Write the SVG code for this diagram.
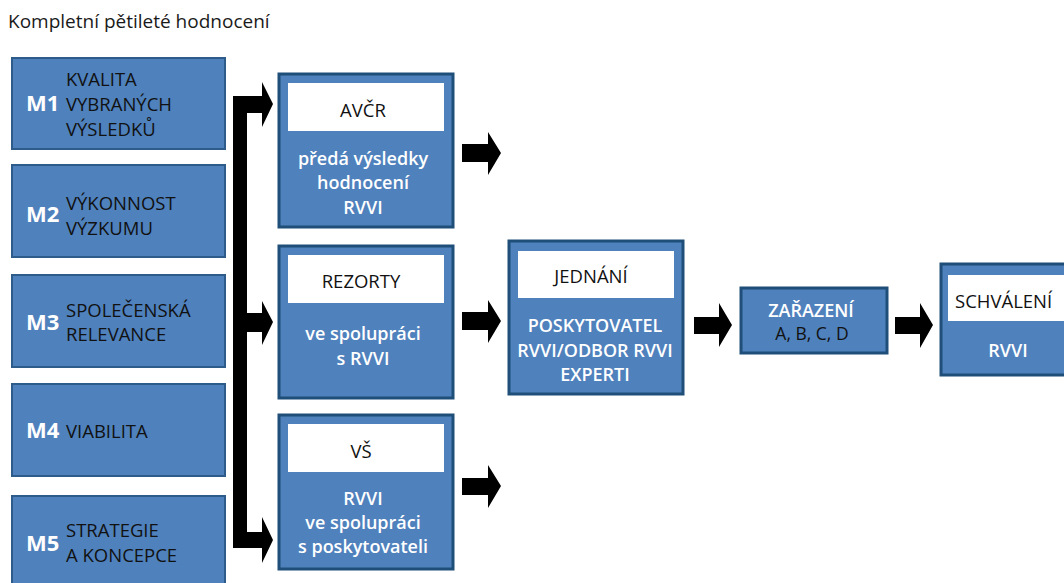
<svg xmlns="http://www.w3.org/2000/svg" width="1064" height="583" viewBox="0 0 1064 583">
<style>
.m{fill:#4F81BD;stroke:#2D5B8A;stroke-width:2}
.p{fill:#4F81BD;stroke:#1F4E79;stroke-width:3}
.w{fill:#FFFFFF}
.t{font-family:"Open Sans","Liberation Sans",sans-serif;font-size:18.5px;fill:#111}
.mn{font-family:"Open Sans","Liberation Sans",sans-serif;font-size:22px;font-weight:700;fill:#fff}
.b{font-family:"Open Sans","Liberation Sans",sans-serif;font-size:18px;font-weight:600;fill:#fff;text-anchor:middle}
.h{font-family:"Open Sans","Liberation Sans",sans-serif;font-size:18.5px;fill:#111;text-anchor:middle}
.title{font-family:"Open Sans","Liberation Sans",sans-serif;font-size:19px;fill:#1a1a1a}
.arr{fill:#000}
</style>
<rect width="1064" height="583" fill="#fff"/>
<text class="title" x="8" y="28">Kompletní pětileté hodnocení</text>

<g id="m1">
<rect class="m" x="12" y="58" width="213" height="91"/>
<text class="mn" x="26" y="111">M1</text>
<text class="t" x="66" y="86">KVALITA</text>
<text class="t" x="66" y="111">VYBRANÝCH</text>
<text class="t" x="66" y="136">VÝSLEDKŮ</text>
</g>
<g id="m2">
<rect class="m" x="12" y="165" width="213" height="92"/>
<text class="mn" x="26" y="222">M2</text>
<text class="t" x="66" y="210">VÝKONNOST</text>
<text class="t" x="66" y="235">VÝZKUMU</text>
</g>
<g id="m3">
<rect class="m" x="12" y="275" width="213" height="92"/>
<text class="mn" x="26" y="330">M3</text>
<text class="t" x="66" y="317">SPOLEČENSKÁ</text>
<text class="t" x="66" y="341">RELEVANCE</text>
</g>
<g id="m4">
<rect class="m" x="12" y="384" width="213" height="92"/>
<text class="mn" x="26" y="438">M4</text>
<text class="t" x="66" y="438">VIABILITA</text>
</g>
<g id="m5">
<rect class="m" x="12" y="496" width="213" height="100"/>
<text class="mn" x="26" y="551">M5</text>
<text class="t" x="66" y="537">STRATEGIE</text>
<text class="t" x="66" y="562">A KONCEPCE</text>
</g>

<g id="avcr">
<rect class="p" x="279" y="74" width="174" height="153"/>
<rect class="w" x="288" y="83" width="156" height="48"/>
<text class="h" x="363" y="117">AVČR</text>
<text class="b" x="363" y="165">předá výsledky</text>
<text class="b" x="363" y="189">hodnocení</text>
<text class="b" x="363" y="214">RVVI</text>
</g>
<g id="rezorty">
<rect class="p" x="279" y="246" width="174" height="152"/>
<rect class="w" x="288" y="255" width="156" height="48"/>
<text class="h" x="361" y="288">REZORTY</text>
<text class="b" x="363" y="340">ve spolupráci</text>
<text class="b" x="363" y="365">s RVVI</text>
</g>
<g id="vs">
<rect class="p" x="279" y="415" width="174" height="154"/>
<rect class="w" x="288" y="424" width="156" height="48"/>
<text class="h" x="361" y="458">VŠ</text>
<text class="b" x="363" y="505">RVVI</text>
<text class="b" x="363" y="529">ve spolupráci</text>
<text class="b" x="363" y="553">s poskytovateli</text>
</g>
<g id="jednani">
<rect class="p" x="509" y="241" width="174" height="153"/>
<rect class="w" x="518" y="251" width="156" height="47"/>
<text class="h" x="591" y="283">JEDNÁNÍ</text>
<text class="b" x="595" y="332">POSKYTOVATEL</text>
<text class="b" x="595" y="357">RVVI/ODBOR RVVI</text>
<text class="b" x="595" y="381">EXPERTI</text>
</g>
<g id="zarazeni">
<rect class="p" x="741" y="288" width="146" height="65"/>
<text class="b" x="811" y="317">ZAŘAZENÍ</text>
<text class="h" x="812" y="340" style="font-size:17.5px">A, B, C, D</text>
</g>
<g id="schvaleni">
<rect class="p" x="941" y="264" width="175" height="111"/>
<rect class="w" x="948" y="275" width="160" height="46"/>
<text class="t" x="955" y="308">SCHVÁLENÍ</text>
<text class="b" x="1008" y="357">RVVI</text>
</g>

<g id="connectors">
<polygon class="arr" points="233,96 262,96 262,82 273,104 262,127 262,113 247,113 247,313 262,313 262,301 273,322 262,345 262,332 247,332 247,532 262,532 262,517 273,540 262,563 262,548 233,548"/>
<polygon class="arr" points="462,144 488,144 488,132 501,153 488,175 488,162 462,162"/>
<polygon class="arr" points="462,312 488,312 488,300 501,321 488,343 488,330 462,330"/>
<polygon class="arr" points="462,478 488,478 488,465 501,486 488,508 488,495 462,495"/>
<polygon class="arr" points="694,317 719,317 719,303 732,325 719,347 719,334 694,334"/>
<polygon class="arr" points="895,317 920,317 920,303 933,325 920,348 920,334 895,334"/>
</g>
</svg>
